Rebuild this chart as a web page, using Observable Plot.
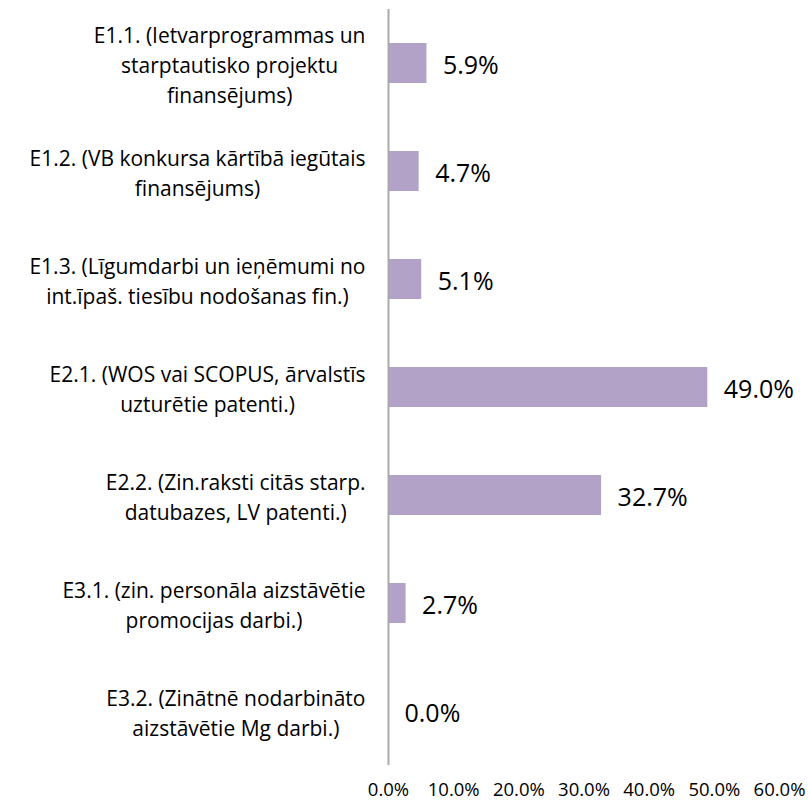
<!DOCTYPE html>
<html>
<head>
<meta charset="utf-8">
<script src="https://cdn.jsdelivr.net/npm/d3@7"></script>
<script src="https://cdn.jsdelivr.net/npm/@observablehq/plot@0.6"></script>
<style>
  html, body { margin: 0; padding: 0; background: #fff; }
  #chart { width: 808px; height: 805px; }
  svg { font-family: "Open Sans", sans-serif; }
</style>
</head>
<body>
<div id="chart"></div>
<script>
const categories = [
  "E1.1. (Ietvarprogrammas un\nstarptautisko projektu\nfinansējums)",
  "E1.2. (VB konkursa kārtībā iegūtais\nfinansējums)",
  "E1.3. (Līgumdarbi un ieņēmumi no\nint.īpaš. tiesību nodošanas fin.)",
  "E2.1. (WOS vai SCOPUS, ārvalstīs\nuzturētie patenti.)",
  "E2.2. (Zin.raksti citās starp.\ndatubazes, LV patenti.)",
  "E3.1. (zin. personāla aizstāvētie\npromocijas darbi.)",
  "E3.2. (Zinātnē nodarbināto\naizstāvētie Mg darbi.)"
];
const values = [5.9, 4.7, 5.1, 49.0, 32.7, 2.7, 0.0];
const xTicks = [0, 10, 20, 30, 40, 50, 60];

const data = categories.map((c, i) => ({category: c, value: values[i]}));

const chart = Plot.plot({
  width: 808,
  height: 805,
  marginLeft: 388,
  marginRight: 29,
  marginTop: 9,
  marginBottom: 40,
  style: {fontFamily: "'Open Sans', sans-serif", background: "#fff", color: "#000"},
  x: {domain: [0, 60]},
  y: {domain: categories, paddingInner: 0.63, paddingOuter: 0.315},
  marks: [
    Plot.barX(data, {x: "value", y: "category", fill: "#b2a2c7"}),
    Plot.text(data, {
      x: "value", y: "category",
      text: d => d.value.toFixed(1) + "%",
      textAnchor: "start", dx: 16, dy: 2,
      fontSize: 25, fill: "#000"
    }),
    Plot.ruleX([0], {stroke: "#aaaaaa", strokeWidth: 2}),
    Plot.axisY({
      tickSize: 0, tickPadding: 23, fontSize: 21, lineHeight: 1.43,
      textAnchor: "end", label: null, fill: "#000"
    }),
    Plot.axisX({
      ticks: xTicks, tickSize: 0, tickPadding: 17, fontSize: 18.5,
      tickFormat: d => d.toFixed(1) + "%", label: null, fill: "#000"
    })
  ]
});

document.getElementById("chart").appendChild(chart);

// Center each multi-line category label as a block, right-aligned to the axis gap
chart.querySelectorAll('[aria-label="y-axis tick label"] text').forEach(t => {
  const spans = t.querySelectorAll("tspan");
  let w = 0;
  if (spans.length) {
    spans.forEach(s => { w = Math.max(w, s.getComputedTextLength()); });
    t.setAttribute("text-anchor", "middle");
    spans.forEach(s => s.setAttribute("x", -w / 2));
  }
});
</script>
</body>
</html>
